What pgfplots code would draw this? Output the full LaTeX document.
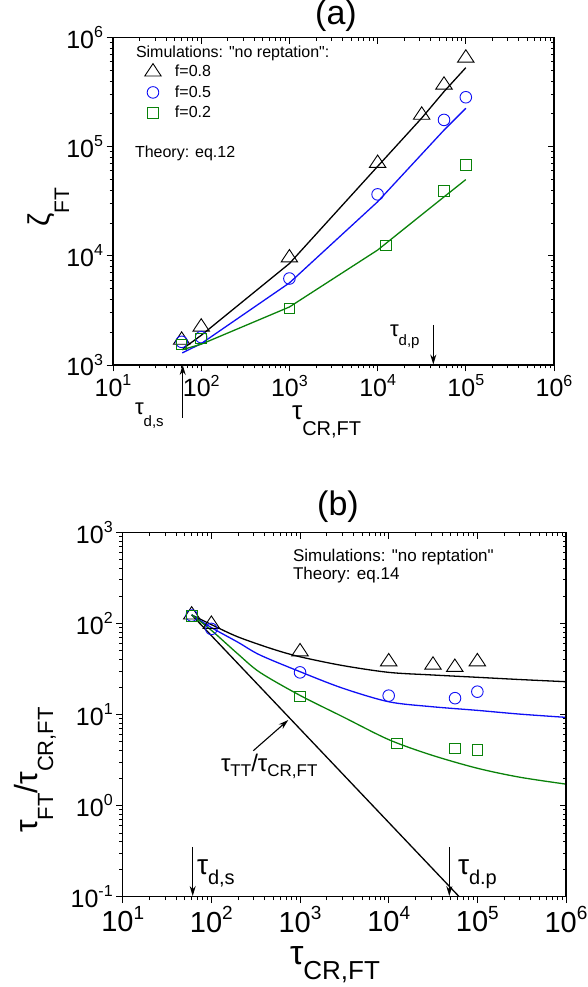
\documentclass[border=0pt]{standalone}
\usepackage{fontspec}
\setmainfont{Liberation Sans}
\usepackage{pgfplots}
\pgfplotsset{compat=1.18}
\usetikzlibrary{arrows.meta}
\definecolor{oblue}{RGB}{15,15,245}
\definecolor{ogreen}{RGB}{10,130,10}
\newcommand{\fs}[1]{\fontsize{#1}{#1}\selectfont}
\begin{document}
\begin{tikzpicture}[x=1pt,y=1pt]
\useasboundingbox (0,0) rectangle (587,987);
% ---------------- panel (a)
\begin{axis}[scale only axis, xmode=log, ymode=log, xmin=10, xmax=1e6,
  axis line style={line width=1.1pt}, tick style={line width=0.9pt, black},
  major tick length=6.5pt, minor tick length=3.5pt,
  tick align=outside, xtick pos=left, ytick pos=left,
  at={(113pt,622pt)}, anchor=south west, width=441pt, height=327.4pt,
  ymin=1e3, ymax=1e6,
  xticklabel={\pgfmathparse{int(round(\tick/ln(10)))}10\raisebox{0.42em}{\fs{16}\pgfmathresult}},
  yticklabel={\pgfmathparse{int(round(\tick/ln(10)))}10\raisebox{0.42em}{\fs{16}\pgfmathresult}},
  xticklabel style={font=\fs{25}}, yticklabel style={font=\fs{25}},
  legend image code/.code={\path[draw=none, fill=none] (0pt,-10pt) rectangle (30.5pt,10pt); \draw[#1] plot coordinates {(8.5pt,0pt)};},
  legend style={draw=none, fill=none, inner sep=0pt, outer sep=0pt,
    at={(axis description cs:0.0714,0.9257)}, anchor=north west,
    font=\fs{16}, row sep=0.5pt, column sep=0pt, nodes={inner sep=0pt}},
  legend cell align=left]
\addplot[no marks, line width=1.3pt, forget plot, black] coordinates {(62,1410) (100,1870) (1000,8500) (10000,66000) (31600,183000) (56600,320000) (100000,530000)};
\addplot[no marks, line width=1.3pt, forget plot, oblue] coordinates {(61,1290) (100,1570) (1000,5650) (10000,31300) (56600,142000) (100000,225000)};
\addplot[no marks, line width=1.3pt, forget plot, ogreen] coordinates {(61,1380) (100,1550) (1000,3400) (10000,11300) (56600,34700) (100000,50000)};
\addplot[only marks, mark=triangle, mark size=9.5pt, mark options={line width=0.9pt, black, yscale=0.87}] coordinates {(60,1690) (100,2230) (1000,9600) (10000,70500) (31600,195000) (56600,368000) (100000,650000)};
\addplot[only marks, mark=o, mark size=5.8pt, mark options={line width=0.9pt, oblue}] coordinates {(60,1630) (100,1800) (1000,6200) (10000,36600) (56600,176000) (100000,284000)};
\addplot[only marks, mark=square, mark size=5.3pt, mark options={line width=0.9pt, ogreen}] coordinates {(60,1540) (100,1750) (1000,3290) (12400,12500) (56600,39500) (100000,68000)};
\legend{f=0.8, f=0.5, f=0.2}
\end{axis}
\begin{axis}[scale only axis, xmode=log, ymode=log, xmin=10, xmax=1e6,
  axis line style={line width=1.1pt}, tick style={line width=0.9pt, black},
  major tick length=6.5pt, minor tick length=3.5pt,
  tick align=inside, xtick pos=right, ytick pos=right, xticklabels={}, yticklabels={},
  at={(113pt,622pt)}, anchor=south west, width=441pt, height=327.4pt, ymin=1e3, ymax=1e6]
\end{axis}
% ---------------- panel (b)
\begin{axis}[scale only axis, xmode=log, ymode=log, xmin=10, xmax=1e6,
  axis line style={line width=1.1pt}, tick style={line width=0.9pt, black},
  major tick length=6.5pt, minor tick length=3.5pt,
  tick align=outside, xtick pos=left, ytick pos=left,
  at={(122.7pt,90.3pt)}, anchor=south west, width=443.3pt, height=364.4pt,
  ymin=0.1, ymax=1000,
  xticklabel={\pgfmathparse{int(round(\tick/ln(10)))}10\raisebox{0.42em}{\fs{19}\pgfmathresult}},
  yticklabel={\pgfmathparse{int(round(\tick/ln(10)))}10\raisebox{0.42em}{\fs{16}\pgfmathresult}},
  xticklabel style={font=\fs{29}}, yticklabel style={font=\fs{25}}]
\addplot[no marks, line width=1.3pt, black] coordinates {(60,124) (62400,0.1)};
\addplot[no marks, line width=1.3pt, black, smooth] coordinates {(60,124) (100,97) (200,71) (500,52) (1000,43) (3000,34.5) (10000,29) (30000,27.2) (100000,25.6) (300000,24.2) (1000000,22.9)};
\addplot[no marks, line width=1.3pt, oblue, smooth] coordinates {(60,124) (100,90) (200,62) (353,45) (1000,29.5) (3000,19.5) (10000,13.8) (30000,12.2) (100000,11.1) (300000,10.1) (1000000,9.3)};
\addplot[no marks, line width=1.3pt, ogreen, smooth] coordinates {(60,124) (100,84) (200,46) (353,29) (1000,16.2) (3000,9.5) (10000,5.3) (30000,3.6) (100000,2.57) (300000,2.05) (1000000,1.72)};
\addplot[only marks, mark=triangle, mark size=9.5pt, mark options={line width=0.9pt, black, yscale=0.87}] coordinates {(60,124) (100,98) (1000,48.9) (10000,38) (31600,34.9) (55700,33) (100000,38)};
\addplot[only marks, mark=o, mark size=5.8pt, mark options={line width=0.9pt, oblue}] coordinates {(60,122) (100,87) (1000,29) (10000,16.1) (56000,15.1) (100000,17.8)};
\addplot[only marks, mark=square, mark size=5.3pt, mark options={line width=0.9pt, ogreen}] coordinates {(60,121) (1000,15.8) (12300,4.83) (56000,4.26) (100000,4.07)};
\end{axis}
\begin{axis}[scale only axis, xmode=log, ymode=log, xmin=10, xmax=1e6,
  axis line style={line width=1.1pt}, tick style={line width=0.9pt, black},
  major tick length=6.5pt, minor tick length=3.5pt,
  tick align=inside, xtick pos=right, ytick pos=right, xticklabels={}, yticklabels={},
  at={(122.7pt,90.3pt)}, anchor=south west, width=443.3pt, height=364.4pt, ymin=0.1, ymax=1000]
\end{axis}
% ---------------- texts
\tikzset{every node/.style={inner sep=0pt, outer sep=0pt}}
\node[anchor=base] at (336,962) {\fs{34}(a)};
\node[anchor=base] at (338,471) {\fs{34}(b)};
\node[anchor=base west] at (136,929) {\fs{16}Simulations: \textquotedbl no reptation\textquotedbl :};
\node[anchor=base west] at (135,829) {\fs{16}Theory: eq.12};
\node[anchor=base west] at (293,425) {\fs{17}Simulations: \textquotedbl no reptation\textquotedbl};
\node[anchor=base west] at (293,407) {\fs{17}Theory: eq.14};
% axis labels
\node[rotate=90, anchor=base west] at (49,760) {\fs{30}ζ\raisebox{-20pt}{\fs{21}FT}};
\node[anchor=base west] at (292,567) {\fs{26}τ\raisebox{-16pt}{\fs{20}CR,FT}};
\node[rotate=90, anchor=base west] at (37,154) {\fs{32}τ\raisebox{-16pt}{\fs{22}FT}/τ\raisebox{-16pt}{\fs{22}CR,FT}};
\node[anchor=base west] at (290,22) {\fs{34}τ\raisebox{-15pt}{\fs{26}CR,FT}};
% annotations
\tikzset{arr/.style={line width=1.1pt, -{Stealth[length=10pt,width=6pt]}}}
\draw[arr] (182.7,569) -- (182.7,622);
\draw[arr] (433.3,662) -- (433.3,622.5);
\node[anchor=base west] at (135,572) {\fs{22}τ\raisebox{-12pt}{\fs{15}d,s}};
\node[anchor=base west] at (390,650) {\fs{22}τ\raisebox{-9pt}{\fs{15}d,p}};
\draw[arr] (192.7,140) -- (192.7,91);
\draw[arr] (449.3,140) -- (449.3,91);
\node[anchor=base west] at (197,112) {\fs{28}τ\raisebox{-10pt}{\fs{20}d,s}};
\node[anchor=base west] at (458,112) {\fs{28}τ\raisebox{-10pt}{\fs{20}d.p}};
\draw[arr] (253.3,236.3) -- (288.3,267);
\node[anchor=base west] at (221,215) {\fs{24}τ\raisebox{-5pt}{\fs{17}TT}/τ\raisebox{-5pt}{\fs{17}CR,FT}};
\end{tikzpicture}
\end{document}
